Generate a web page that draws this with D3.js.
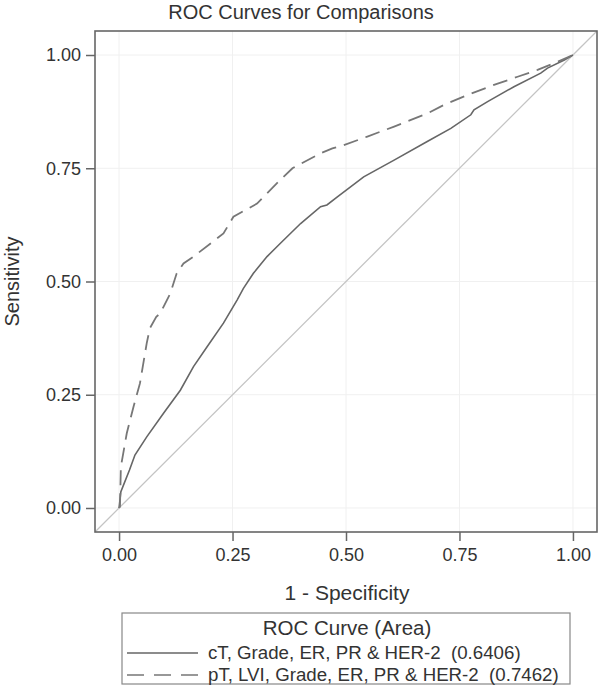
<!DOCTYPE html>
<html>
<head>
<meta charset="utf-8">
<script src="https://cdn.jsdelivr.net/npm/d3@7"></script>
<style>
  body { margin: 0; background: #fff; }
  text { font-family: 'Liberation Sans', Arial, sans-serif; fill: #333; }
</style>
</head>
<body>
<div id="chart"></div>
<script>
// ROC points [1 - specificity, sensitivity]
const modelA = [
  [0, 0], [0.004, 0.036], [0.008, 0.046], [0.023, 0.084], [0.035, 0.117],
  [0.061, 0.157], [0.098, 0.209], [0.135, 0.26], [0.164, 0.312], [0.194, 0.356],
  [0.23, 0.408], [0.26, 0.459], [0.274, 0.485], [0.296, 0.518], [0.326, 0.555],
  [0.355, 0.584], [0.4, 0.628], [0.444, 0.665], [0.458, 0.669], [0.481, 0.687],
  [0.539, 0.731], [0.606, 0.768], [0.679, 0.809], [0.731, 0.838], [0.775, 0.868],
  [0.782, 0.879], [0.812, 0.897], [0.87, 0.93], [0.929, 0.96], [0.944, 0.971],
  [0.981, 0.989], [1, 1]
]
const modelB = [
  [0, 0], [0.002, 0.003], [0.004, 0.091], [0.017, 0.165], [0.032, 0.224],
  [0.046, 0.275], [0.061, 0.364], [0.068, 0.397], [0.082, 0.422], [0.091, 0.43],
  [0.113, 0.474], [0.127, 0.518], [0.142, 0.54], [0.164, 0.555], [0.23, 0.606],
  [0.252, 0.643], [0.304, 0.672], [0.348, 0.717], [0.382, 0.75], [0.444, 0.783],
  [0.47, 0.794], [0.495, 0.801], [0.547, 0.82], [0.606, 0.842], [0.679, 0.871],
  [0.716, 0.89], [0.768, 0.912], [0.826, 0.934], [0.878, 0.952], [0.922, 0.967],
  [0.959, 0.982], [1, 1]
]
const seriesNames = [
  'cT, Grade, ER, PR & HER-2  (0.6406)',
  'pT, LVI, Grade, ER, PR & HER-2  (0.7462)'
]
const ticks = [0, 0.25, 0.5, 0.75, 1]

const width = 600
const height = 687
const margin = { top: 31, right: 3, bottom: 155, left: 95 }
const pad = 0.053
const fmt = d3.format('.2f')

const svg = d3.select('#chart').append('svg')
  .attr('width', width)
  .attr('height', height)

const x = d3.scaleLinear().domain([-pad, 1 + pad]).range([margin.left, width - margin.right])
const y = d3.scaleLinear().domain([-pad, 1 + pad]).range([height - margin.bottom, margin.top])

// faint grid
svg.append('g').selectAll('line.gx').data(ticks).enter().append('line')
  .attr('x1', d => x(d)).attr('x2', d => x(d))
  .attr('y1', y.range()[0]).attr('y2', y.range()[1])
  .attr('stroke', '#f0f0f0')
svg.append('g').selectAll('line.gy').data(ticks).enter().append('line')
  .attr('y1', d => y(d)).attr('y2', d => y(d))
  .attr('x1', x.range()[0]).attr('x2', x.range()[1])
  .attr('stroke', '#f0f0f0')

// reference diagonal
svg.append('line')
  .attr('x1', x(-pad)).attr('y1', y(-pad))
  .attr('x2', x(1 + pad)).attr('y2', y(1 + pad))
  .attr('stroke', '#c4c4c4').attr('stroke-width', 1.3)

const line = d3.line().x(d => x(d[0])).y(d => y(d[1]))

svg.append('path').datum(modelA)
  .attr('d', line).attr('fill', 'none')
  .attr('stroke', '#666').attr('stroke-width', 1.6)
svg.append('path').datum(modelB)
  .attr('d', line).attr('fill', 'none')
  .attr('stroke', '#777').attr('stroke-width', 1.8)
  .attr('stroke-dasharray', '15,8')

// axes
const xAxis = svg.append('g')
  .attr('transform', 'translate(0,' + y.range()[0] + ')')
  .call(d3.axisBottom(x).tickValues(ticks).tickFormat(fmt).tickSize(9).tickPadding(7))
const yAxis = svg.append('g')
  .attr('transform', 'translate(' + x.range()[0] + ',0)')
  .call(d3.axisLeft(y).tickValues(ticks).tickFormat(fmt).tickSize(9).tickPadding(5))
;[xAxis, yAxis].forEach(a => {
  a.select('.domain').remove()
  a.selectAll('line').attr('stroke', '#666').attr('stroke-width', 1.5)
  a.selectAll('text').attr('font-size', 18).attr('fill', '#444')
})

// frame
svg.append('rect')
  .attr('x', x.range()[0]).attr('y', y.range()[1])
  .attr('width', x.range()[1] - x.range()[0])
  .attr('height', y.range()[0] - y.range()[1])
  .attr('fill', 'none').attr('stroke', '#666').attr('stroke-width', 1.6)

// titles
svg.append('text').attr('x', 301).attr('y', 19)
  .attr('text-anchor', 'middle').attr('font-size', 20).attr('fill', '#222')
  .text('ROC Curves for Comparisons')
svg.append('text').attr('x', 347).attr('y', 600)
  .attr('text-anchor', 'middle').attr('font-size', 21)
  .text('1 - Specificity')
svg.append('text')
  .attr('transform', 'translate(19,' + y(0.5) + ') rotate(-90)')
  .attr('text-anchor', 'middle').attr('font-size', 20)
  .text('Sensitivity')

// legend
const lg = svg.append('g').attr('transform', 'translate(122,613)')
lg.append('rect').attr('width', 448).attr('height', 71)
  .attr('fill', 'none').attr('stroke', '#888').attr('stroke-width', 1.2)
lg.append('text').attr('x', 225).attr('y', 22)
  .attr('text-anchor', 'middle').attr('font-size', 20.5)
  .text('ROC Curve (Area)')
seriesNames.forEach((name, i) => {
  const yy = 40 + i * 22
  lg.append('line').attr('x1', 5).attr('x2', 76).attr('y1', yy).attr('y2', yy)
    .attr('stroke', i ? '#777' : '#666').attr('stroke-width', 1.6)
    .attr('stroke-dasharray', i ? '17,10' : null)
  lg.append('text').attr('x', 86).attr('y', yy + 6)
    .attr('font-size', 18.7).style('white-space', 'pre')
    .text(name)
})
</script>
</body>
</html>
